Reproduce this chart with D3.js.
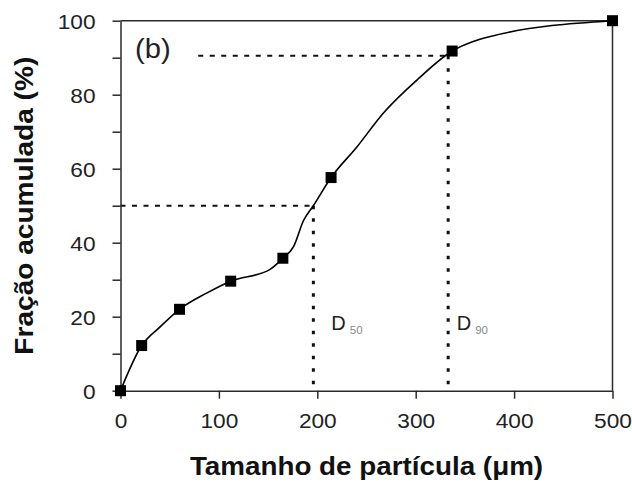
<!DOCTYPE html>
<html><head><meta charset="utf-8">
<script src="https://cdn.jsdelivr.net/npm/d3@7"></script>
<style>
body{margin:0;background:#fff}
svg{display:block}
text{font-family:"Liberation Sans",Arial,Helvetica,sans-serif}
</style>
</head><body>
<svg id="chart" width="632" height="482"></svg>
<script>
// Measured samples (markers)
const sizes = [0, 21.5, 60, 112, 165, 214, 337, 500];
const fractions = [0, 12.2, 22, 29.6, 35.8, 57.6, 91.8, 100];
// Smoothed curve
const curveSizes = [0, 21.5, 40, 60, 87, 112, 152, 165, 176, 186, 196, 214, 240, 267, 303, 337, 377, 500];
const curveFractions = [0, 12.2, 17.2, 22, 26.3, 29.6, 32.8, 35.8, 39, 46, 50, 57.6, 65.8, 75, 84.4, 91.8, 95.8, 100];
// Ticks
const xTicks = [0, 100, 200, 300, 400, 500];
const yTicks = [0, 20, 40, 60, 80, 100];
const yMinorTicks = [10, 30, 50, 70, 90];
// Characteristic diameters
const dLabels = ["50", "90"];
const dValues = [196, 333];
const dLevels = [50, 90.5];
const dLineStarts = [0, 79];

const svg = d3.select("#chart");
const m = {left: 120.5, top: 20.7, right: 19.5, bottom: 91.3};
const W = 632 - m.left - m.right, H = 482 - m.top - m.bottom;
const g = svg.append("g").attr("transform", `translate(${m.left},${m.top})`);

const x = d3.scaleLinear().domain([0, 500]).range([0, W]);
const y = d3.scaleLinear().domain([0, 100]).range([H, 0]);
const stretch = 1.08;
const axisColor = "#2a2a2a";
const labelOffsets = [18, 8.5];

// Frame (top and right)
g.append("line").attr("x1", x(0)).attr("x2", x(500)).attr("y1", y(100)).attr("y2", y(100))
  .attr("stroke", axisColor).attr("stroke-width", 1.5);
g.append("line").attr("x1", x(500)).attr("x2", x(500)).attr("y1", y(100)).attr("y2", y(0))
  .attr("stroke", axisColor).attr("stroke-width", 1.5);

// Dashed guide lines
dValues.forEach((dv, i) => {
  g.append("line").attr("x1", x(dLineStarts[i])).attr("x2", x(dv))
    .attr("y1", y(dLevels[i])).attr("y2", y(dLevels[i]))
    .attr("stroke", "#111").attr("stroke-width", 2).attr("stroke-dasharray", "5,6.5");
  g.append("line").attr("x1", x(dv)).attr("x2", x(dv))
    .attr("y1", y(dLevels[i])).attr("y2", y(0))
    .attr("stroke", "#111").attr("stroke-width", 3).attr("stroke-dasharray", "3.5,9");
});

// Axes
const yAll = yTicks.concat(yMinorTicks).sort((a, b) => a - b);
const yAxis = g.append("g").call(d3.axisLeft(y).tickValues(yAll).tickSize(8).tickSizeOuter(0)
  .tickFormat(d => yTicks.includes(d) ? d : ""));
yAxis.selectAll("text").attr("x", -25 / stretch).attr("dy", "0.36em")
  .attr("transform", `scale(${stretch},1)`).style("font-size", "21px").attr("fill", "#222");
const xAxis = g.append("g").attr("transform", `translate(0,${H})`)
  .call(d3.axisBottom(x).tickValues(xTicks).tickSize(8).tickSizeOuter(0).tickPadding(14));
xAxis.selectAll("text").attr("transform", `scale(${stretch},1)`).style("font-size", "21px").attr("fill", "#222");
[yAxis, xAxis].forEach(a => {
  a.select(".domain").attr("stroke", axisColor).attr("stroke-width", 1.5);
  a.selectAll(".tick line").attr("stroke", axisColor).attr("stroke-width", 1.5);
});

// Curve
const pts = curveSizes.map((s, i) => [s, curveFractions[i]]);
g.append("path").datum(pts)
  .attr("d", d3.line().x(d => x(d[0])).y(d => y(d[1])).curve(d3.curveMonotoneX))
  .attr("fill", "none").attr("stroke", "#000").attr("stroke-width", 1.6);

// Markers
const ms = 11;
g.selectAll("rect.mk").data(sizes.map((s, i) => [s, fractions[i]])).join("rect")
  .attr("class", "mk")
  .attr("x", d => x(d[0]) - ms / 2).attr("y", d => y(d[1]) - ms / 2)
  .attr("width", ms).attr("height", ms).attr("fill", "#000");

// D labels
dValues.forEach((dv, i) => {
  const t = g.append("text").attr("x", x(dv) + labelOffsets[i]).attr("y", 330.5 - m.top)
    .style("font-size", "20px").attr("fill", "#222");
  t.append("tspan").text("D");
  t.append("tspan").attr("dx", 4).attr("dy", 4).style("font-size", "11.5px").attr("fill", "#8a8a8a").text(dLabels[i]);
});

// Panel label
svg.append("text").attr("transform", `translate(135,57.5) scale(${stretch},1)`)
  .style("font-size", "27px").attr("fill", "#222").text("(b)");

// Axis titles
svg.append("text").attr("transform", `translate(${m.left + W / 2},475) scale(1.07,1)`)
  .attr("text-anchor", "middle").style("font-size", "26px").style("font-weight", "bold")
  .attr("fill", "#111").text("Tamanho de partícula (μm)");
svg.append("text").attr("transform", `translate(33,${m.top + H / 2}) rotate(-90) scale(1.08,1)`)
  .attr("text-anchor", "middle").style("font-size", "26px").style("font-weight", "bold")
  .attr("fill", "#111").text("Fração acumulada (%)");
</script>
</body></html>
